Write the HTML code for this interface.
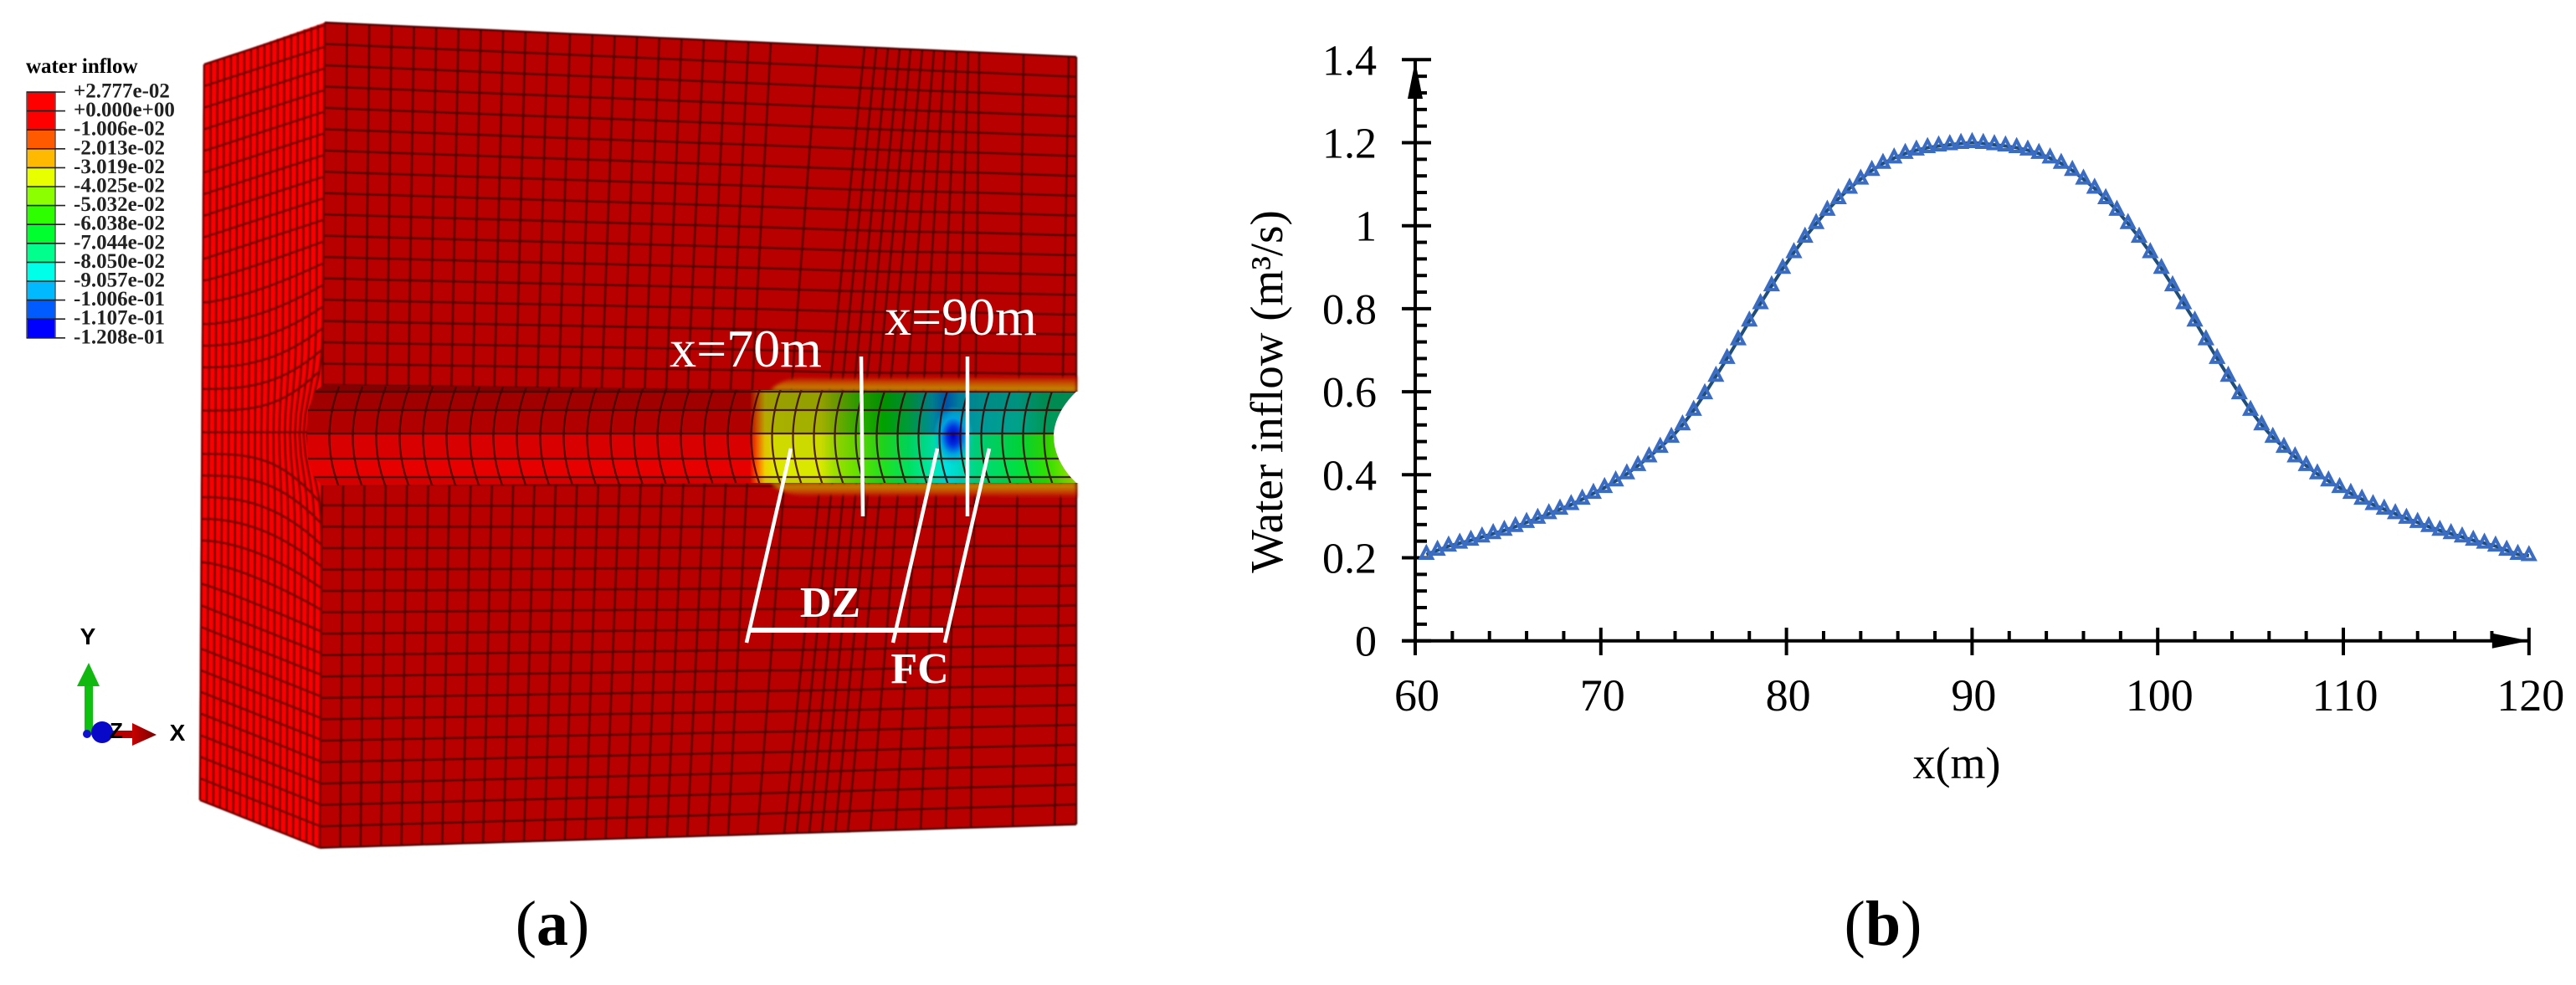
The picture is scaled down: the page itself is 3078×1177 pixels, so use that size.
<!DOCTYPE html>
<html lang="en">
<head>
<meta charset="utf-8">
<title>Water inflow contour and profile</title>
<style>
html,body{margin:0;padding:0;background:#fff}
svg{display:block}
text{font-family:"Liberation Serif",serif;fill:#000}
</style>
</head>
<body>
<svg id="root" xmlns="http://www.w3.org/2000/svg" width="3078" height="1177" viewBox="0 0 3078 1177">
<defs>
  <filter id="soft" x="-2%" y="-2%" width="104%" height="104%"><feGaussianBlur stdDeviation="0.7"/></filter>
  <filter id="soft2" x="-10%" y="-10%" width="120%" height="120%"><feGaussianBlur stdDeviation="2"/></filter>
  <linearGradient id="haloTop" x1="0" y1="0" x2="0" y2="1">
    <stop offset="0" stop-color="#b80000"/><stop offset=".45" stop-color="#c85000"/><stop offset="1" stop-color="#b8a000"/>
  </linearGradient>
  <linearGradient id="haloBot" x1="0" y1="1" x2="0" y2="0">
    <stop offset="0" stop-color="#b80000"/><stop offset=".45" stop-color="#c85000"/><stop offset="1" stop-color="#b8a000"/>
  </linearGradient>
  <radialGradient id="peakGlow">
    <stop offset="0" stop-color="#0000c0"/><stop offset=".3" stop-color="#0030e0"/><stop offset=".6" stop-color="#00a0e0"/><stop offset="1" stop-color="#00d0d0" stop-opacity="0"/>
  </radialGradient>
  <linearGradient id="xArrowGrad" x1="0" y1="0" x2="1" y2="0">
    <stop offset="0" stop-color="#c80000"/><stop offset="1" stop-color="#780000"/>
  </linearGradient>
</defs>

<g id="panel-a">
  <g id="mesh" filter="url(#soft)"></g>
  <g id="tunnel"></g>

  <g stroke="#fff" stroke-width="4.5" fill="none">
    <line x1="945" y1="536" x2="892" y2="768"/>
    <line x1="1120" y1="536" x2="1067" y2="768"/>
    <line x1="1182" y1="536" x2="1129" y2="768"/>
    <line x1="1029" y1="426" x2="1031" y2="617"/>
    <line x1="1156" y1="426" x2="1156" y2="617"/>
    <line x1="896" y1="753" x2="1127" y2="753" stroke-width="6"/>
  </g>
  <text x="891" y="438" font-size="64" text-anchor="middle" style="fill:#fff">x=70m</text>
  <text x="1148" y="400" font-size="64" text-anchor="middle" style="fill:#fff">x=90m</text>
  <text x="992" y="737" font-size="52" font-weight="bold" text-anchor="middle" style="fill:#fff">DZ</text>
  <text x="1099" y="816" font-size="52" font-weight="bold" text-anchor="middle" style="fill:#fff">FC</text>

  <g id="legend">
    <text x="31" y="87" font-size="25" font-weight="bold">water inflow</text>
  </g>

  <g>
    <rect x="101" y="818" width="10" height="60" fill="#10c010"/>
    <polygon points="106,792 92,820 119,820" fill="#10b810"/>
    <rect x="130" y="873" width="30" height="9" fill="#b80000"/>
    <polygon points="158,864 187,878 158,891" fill="url(#xArrowGrad)"/>
    <circle cx="104" cy="877" r="5" fill="#1010d0"/>
    <circle cx="122" cy="875" r="13" fill="#0808c8"/>
    <text x="105" y="770" font-size="28" font-weight="bold" text-anchor="middle" style="font-family:'Liberation Sans',sans-serif">Y</text>
    <text x="139" y="882" font-size="26" font-weight="bold" text-anchor="middle" style="font-family:'Liberation Sans',sans-serif">Z</text>
    <text x="212" y="885" font-size="28" font-weight="bold" text-anchor="middle" style="font-family:'Liberation Sans',sans-serif">X</text>
  </g>
  <text x="660" y="1129" font-size="76" text-anchor="middle">(<tspan font-weight="bold">a</tspan>)</text>
</g>

<g id="panel-b">
  <g id="axes"></g>
  <g id="series"></g>
  <text x="2338" y="930" font-size="54" text-anchor="middle">x(m)</text>
  <text transform="translate(1532,468) rotate(-90)" font-size="55" text-anchor="middle">Water inflow (m³/s)</text>
  <text x="2250" y="1129" font-size="76" text-anchor="middle">(<tspan font-weight="bold">b</tspan>)</text>
</g>
</svg>

<script>
// ---- chart data (panel b) ----
const xValues = [60.6,61.2,61.8,62.4,63,63.6,64.2,64.8,65.4,66,66.6,67.2,67.8,68.4,69,69.6,70.2,70.8,71.4,72,72.6,73.2,73.8,74.4,75,75.6,76.2,76.8,77.4,78,78.6,79.2,79.8,80.4,81,81.6,82.2,82.8,83.4,84,84.6,85.2,85.8,86.4,87,87.6,88.2,88.8,89.4,90,90.6,91.2,91.8,92.4,93,93.6,94.2,94.8,95.4,96,96.6,97.2,97.8,98.4,99,99.6,100.2,100.8,101.4,102,102.6,103.2,103.8,104.4,105,105.6,106.2,106.8,107.4,108,108.6,109.2,109.8,110.4,111,111.6,112.2,112.8,113.4,114,114.6,115.2,115.8,116.4,117,117.6,118.2,118.8,119.4,120];
const waterInflow = [0.208,0.218,0.228,0.235,0.242,0.25,0.258,0.266,0.275,0.285,0.295,0.306,0.317,0.328,0.341,0.355,0.369,0.385,0.402,0.422,0.443,0.466,0.49,0.52,0.555,0.595,0.637,0.68,0.725,0.77,0.812,0.855,0.897,0.935,0.972,1.005,1.037,1.065,1.09,1.112,1.133,1.15,1.163,1.174,1.182,1.188,1.192,1.195,1.198,1.2,1.198,1.195,1.192,1.188,1.182,1.174,1.163,1.15,1.133,1.112,1.09,1.065,1.037,1.005,0.972,0.935,0.897,0.855,0.812,0.77,0.725,0.68,0.637,0.595,0.555,0.52,0.49,0.466,0.443,0.422,0.402,0.385,0.369,0.355,0.341,0.328,0.317,0.306,0.295,0.285,0.275,0.266,0.258,0.25,0.242,0.235,0.228,0.218,0.208,0.205];
const xTickLabels = [60,70,80,90,100,110,120];
const yTickLabels = [0,0.2,0.4,0.6,0.8,1,1.2,1.4];
const xMinorTicks = [62,64,66,68,72,74,76,78,82,84,86,88,92,94,96,98,102,104,106,108,112,114,116,118];
const yMinorTicks = [0.04,0.08,0.12,0.16,0.24,0.28,0.32,0.36,0.44,0.48,0.52,0.56,0.64,0.68,0.72,0.76,0.84,0.88,0.92,0.96,1.04,1.08,1.12,1.16,1.24,1.28,1.32,1.36];

// ---- legend data (panel a) ----
const legendLabels = ["+2.777e-02","+0.000e+00","-1.006e-02","-2.013e-02","-3.019e-02","-4.025e-02","-5.032e-02","-6.038e-02","-7.044e-02","-8.050e-02","-9.057e-02","-1.006e-01","-1.107e-01","-1.208e-01"];
const legendColors = ["#ff0000","#ff0000","#ff5a00","#ffb900","#e8ff00","#8cff00","#2eff00","#00ff2e","#00ff8c","#00ffe8","#00b9ff","#005cff","#0000ff"];

const NS = "http://www.w3.org/2000/svg";
function mk(parent, tag, attrs, txt){
  const e = document.createElementNS(NS, tag);
  for (const k in attrs) e.setAttribute(k, attrs[k]);
  if (txt !== undefined) e.textContent = txt;
  parent.appendChild(e);
  return e;
}
const lerp = (a,b,t)=>a+(b-a)*t;

// axis functions
const xScale = v => 1691 + (v - 60) * 22.18;
const yScale = v => 765.7 - v * 496;

// ---------- chart axes ----------
const axes = document.getElementById('axes');
const AX = {stroke:'#000','stroke-width':4};
const yAxisLine = mk(axes,'line',{x1:xScale(60),y1:yScale(1.4),x2:xScale(60),y2:783,...AX});


const xAxisLine = mk(axes,'line',{x1:1675,y1:yScale(0),x2:xScale(120),y2:yScale(0),...AX});


yTickLabels.forEach(v=>{
  const t = mk(axes,'line',{x1:1675,y1:yScale(v),x2:1710,y2:yScale(v),...AX});
  
  
  const l = mk(axes,'text',{x:1645,y:yScale(v)+18,'font-size':52,'text-anchor':'end'},String(v));
  
  
});
yMinorTicks.forEach(v=>{
  const t = mk(axes,'line',{x1:xScale(60),y1:yScale(v),x2:1705,y2:yScale(v),...AX});
  
  
});
xTickLabels.forEach(v=>{
  const t = mk(axes,'line',{x1:xScale(v),y1:750,x2:xScale(v),y2:783,...AX});
  
  
  const l = mk(axes,'text',{x:xScale(v)+2,y:849,'font-size':54,'text-anchor':'middle'},String(v));
  
  
});
xMinorTicks.forEach(v=>{
  const t = mk(axes,'line',{x1:xScale(v),y1:754,x2:xScale(v),y2:yScale(0),...AX});
  
  
});
const yArrow = mk(axes,'polygon',{points:`${xScale(60)},73 ${xScale(60)-9},118 ${xScale(60)+9},118`,fill:'#000'});


const xArrow = mk(axes,'polygon',{points:`${xScale(120)},${yScale(0)} ${xScale(120)-44},${yScale(0)-9} ${xScale(120)-44},${yScale(0)+9}`,fill:'#000'});



// ---------- series ----------
const series = document.getElementById('series');
const pts = xValues.map((x,i)=>xScale(x).toFixed(1)+','+yScale(waterInflow[i]).toFixed(1)).join(' ');
const seriesLine = mk(series,'polyline',{points:pts,fill:'none',stroke:'#1f4e79','stroke-width':4});


xValues.forEach((x,i)=>{
  const cx = xScale(x), cy = yScale(waterInflow[i]);
  const tri = mk(series,'polygon',{points:`${cx},${cy-8.5} ${cx-6.8},${cy+4.5} ${cx+6.8},${cy+4.5}`,fill:'none',stroke:'#3a6cc4','stroke-width':4,'stroke-linejoin':'miter'});
  
  
});

// ---------- legend ----------
const legend = document.getElementById('legend');
const legTop = 110, legStep = 22.6;
legendColors.forEach((c,i)=>{
  const r = mk(legend,'rect',{x:32,y:legTop+i*legStep,width:34,height:legStep,fill:c});
  
  
});
const legFrame = mk(legend,'rect',{x:32,y:legTop,width:34,height:legStep*legendColors.length,fill:'none',stroke:'#555','stroke-width':1.5});


legendLabels.forEach((s,i)=>{
  const y = legTop+i*legStep;
  const t = mk(legend,'line',{x1:32,y1:y,x2:78,y2:y,stroke:'#222','stroke-width':1.6});
  
  
  const l = mk(legend,'text',{x:88,y:y+6.5,'font-size':25,'font-weight':'bold',style:'fill:#222'},s);
  
  
});

// ---------- mesh ----------
const mesh = document.getElementById('mesh');
const leftFace = mk(mesh,'polygon',{points:'244,77 388,27 382,1013 239,956',fill:'#fb0000'});


const frontFace = mk(mesh,'polygon',{points:'388,27 1286,68 1286,985 382,1013',fill:'#b80000'});



const rowV = [];
for (let j=0;j<=17;j++) rowV.push(j/17*0.439);
for (let j=0;j<=17;j++) rowV.push(0.559+j/17*0.441);

const colTop = [], colBot = [];
for (let i=0;i<20;i++){ colTop.push(388+26.65*i); colBot.push(382+24.4*i); }
[921,977,1033,1047,1061,1075,1088,1102,1116,1129,1143,1157,1170,1223,1277,1286].forEach(v=>colTop.push(v));
[870,905,937,952,967,982,998,1013,1040,1070,1100,1130,1160,1210,1260,1286].forEach(v=>colBot.push(v));

const topY = x => lerp(27,68,(x-388)/898);
const botY = x => lerp(1013,985,(x-382)/904);
let d = '';
colTop.forEach((tx,c)=>{
  const bx = colBot[c];
  d += `M${tx.toFixed(1)} ${topY(tx).toFixed(1)}L${bx.toFixed(1)} ${botY(bx).toFixed(1)}`;
});
rowV.forEach(v=>{
  colTop.forEach((tx,c)=>{
    const bx = colBot[c];
    const x = lerp(tx,bx,v), y = lerp(topY(tx),botY(bx),v);
    d += (c?'L':'M')+x.toFixed(1)+' '+y.toFixed(1);
  });
});
const frontMesh = mk(mesh,'path',{d,fill:'none',stroke:'#4c0000','stroke-width':2.4});



// left face: rows bend towards the tunnel mouth
function leftPt(u, y){
  const xEdge = lerp(lerp(244,239,(y-77)/879), lerp(388,382,(y-27)/986), u);
  const g = Math.exp(-Math.pow((y-518)/60,2));
  return [xEdge - 18*u*u*u*u*g, y];
}
let dl = '';
const leftCols = 18;
for (let i=0;i<=leftCols;i++){
  const u=i/leftCols;
  for (let s=0;s<=40;s++){
    const t=s/40;
    const y = lerp(lerp(77,27,u), lerp(956,1013,u), t);
    const p = leftPt(u,y);
    dl += (s?'L':'M')+p[0].toFixed(1)+' '+p[1].toFixed(1);
  }
}
for (let k=0;k<=34;k++){
  const L = 77+25.85*k;
  let R;
  if (L<500) R = L-47; else if (L>530) R = L+57; else R = L;
  const f = Math.max(0,1-Math.abs(L-515)/190);
  const pw = 1+2.4*f;
  for (let s=0;s<=14;s++){
    const u=s/14;
    const y=lerp(L,R,Math.pow(u,pw));
    const p=leftPt(u,y);
    dl += (s?'L':'M')+p[0].toFixed(1)+' '+p[1].toFixed(1);
  }
}
const leftMesh = mk(mesh,'path',{d:dl,fill:'none',stroke:'#760000','stroke-width':2.6});



// ---------- tunnel ----------
const tunnel = document.getElementById('tunnel');
const defs = document.querySelector('defs');
const lowerStops = [[360,'#e60000'],[900,'#e60000'],[908,'#ff5a00'],[918,'#f0d000'],[930,'#dde800'],[985,'#d8e800'],[1000,'#a0e000'],[1030,'#60e000'],[1060,'#20e020'],[1090,'#00e060'],[1118,'#00e8a8'],[1135,'#00e0e0'],[1150,'#00d8c0'],[1170,'#00d880'],[1220,'#00e040'],[1255,'#30e000'],[1290,'#a0e000']];
const upperStops = [[360,'#b80000'],[900,'#b80000'],[908,'#d05000'],[918,'#c0b000'],[930,'#b0b800'],[985,'#a8b800'],[1000,'#80b000'],[1030,'#30b000'],[1060,'#00a800'],[1090,'#00a040'],[1118,'#0090a0'],[1135,'#0060c0'],[1150,'#0090b0'],[1175,'#00a0a0'],[1220,'#00a890'],[1250,'#00a060'],[1290,'#00a060']];
function grad(id,stops){
  const g = mk(defs,'linearGradient',{id,gradientUnits:'userSpaceOnUse',x1:356,y1:0,x2:1286,y2:0});
  stops.forEach(s=>mk(g,'stop',{offset:((s[0]-360)/930).toFixed(4),'stop-color':s[1]}));
}
grad('gLow',lowerStops); grad('gUp',upperStops);

const halo1 = mk(tunnel,'path',{d:'M921 466Q941 446 981 452L1286 450V468Z',fill:'url(#haloTop)',filter:'url(#soft2)'});


const halo2 = mk(tunnel,'path',{d:'M921 578Q941 596 981 592L1286 594V577Z',fill:'url(#haloBot)',filter:'url(#soft2)'});



const clip = mk(defs,'clipPath',{id:'tunnelClip'});
mk(clip,'path',{d:'M386 460L910 466L1286 468C1268 485 1259 505 1259 521C1259 540 1268 560 1286 577L910 577L385 580L375 570L368 548L367 518L368 490L377 467Z'});
const tg = mk(tunnel,'g',{'clip-path':'url(#tunnelClip)'});


// bands: y0, y1, gradient, darkening overlay opacity
[[458,468,'gLow',.42],[468,490,'gUp',.13],[490,518,'gUp',.04],[518,548,'gLow',.06],[548,570,'gLow',0],[570,582,'gLow',.08]].forEach(b=>{
  const r = mk(tg,'rect',{x:355,y:b[0],width:940,height:b[1]-b[0],fill:`url(#${b[2]})`});
  
  
  if (b[3]) mk(tg,'rect',{x:355,y:b[0],width:940,height:b[1]-b[0],fill:'#000',opacity:b[3]});
});
const peak = mk(tg,'ellipse',{cx:1139,cy:521,rx:24,ry:36,fill:'url(#peakGlow)'});



let dt = '';
[468,490,518,548,570].forEach(y=>{ dt += `M360 ${y}L1290 ${y}`; });
for (let x=396;x<1258;){
  dt += `M${x+9} 462Q${x-14} 522 ${x+9} 582`;
  x += x<900 ? 28 : 25;
}
const tMesh = mk(tg,'path',{d:dt,fill:'none',stroke:'#3a0000','stroke-width':2.2,opacity:.85});


const notch = mk(tunnel,'path',{d:'M1286 468C1268 485 1259 505 1259 521C1259 540 1268 560 1286 577L1296 577L1296 468Z',fill:'#fff'});


</script>
</body>
</html>
